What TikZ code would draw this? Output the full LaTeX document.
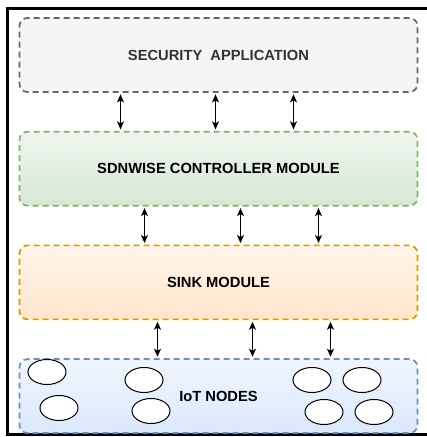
\documentclass[tikz,border=0pt]{standalone}
\usepackage{fontspec}
\setmainfont{Liberation Sans}
\usetikzlibrary{positioning, arrows.meta, shapes.geometric}
\definecolor{secfill}{HTML}{F5F5F5}
\definecolor{secline}{HTML}{666666}
\definecolor{sdnfill}{HTML}{D5E8D4}
\definecolor{sdnline}{HTML}{82B366}
\definecolor{sinkfill}{HTML}{FFE6CC}
\definecolor{sinkline}{HTML}{D79B00}
\definecolor{iotfill}{HTML}{DAE8FC}
\definecolor{iotline}{HTML}{6C8EBF}
\tikzset{>={Stealth[length=8pt,width=7pt,inset=2pt]}}

\begin{document}
\begin{tikzpicture}[x=1pt,y=1pt,node distance=38pt]
    \tikzstyle{layer}=[rectangle,rounded corners=8pt,minimum width=398pt,minimum height=74pt,
        line width=1.7pt,dash pattern=on 6pt off 4pt,
        font=\fontsize{14.7}{17}\selectfont\bfseries]
    \tikzstyle{mote}=[ellipse,draw,fill=white,line width=1pt,minimum width=38pt,minimum height=25pt]

    \useasboundingbox (0,0) rectangle (427,437);
    \draw[line width=3pt] (445,428.5) -| (7,2.5) -- (445,2.5);

    \node[layer,draw=secline,fill=secfill,text=black!80] (sec) at (218.5,382) {SECURITY\ \ APPLICATION};
    \node[layer,draw=sdnline,top color=sdnfill!40!white,bottom color=sdnfill] (sdn) [below=of sec]  {SDNWISE CONTROLLER MODULE};
    \node[layer,draw=sinkline,top color=sinkfill!40!white,bottom color=sinkfill] (sink) [below=of sdn] {SINK MODULE};
    \node[layer,draw=iotline,top color=iotfill!40!white,bottom color=iotfill] (iot) [below=of sink] {IoT NODES};

    \node[mote] (m1) at (47,65) {};
    \node[mote] (m2) at (59,29) {};
    \node[mote] (m3) at (144,57) {};
    \node[mote] (m4) at (151,26) {};
    \node[mote] (m5) at (312,57) {};
    \node[mote] (m6) at (362,57) {};
    \node[mote] (m7) at (324,25) {};
    \node[mote] (m8) at (374,25) {};

    \path[<->,line width=1.3pt,shorten >=1.5pt,shorten <=1.5pt]
    ([xshift=-98pt]sec.south)  edge ([xshift=-98pt]sdn.north)
    ([xshift=-3pt]sec.south)   edge ([xshift=-3pt]sdn.north)
    ([xshift=75pt]sec.south)   edge ([xshift=75pt]sdn.north)
    ([xshift=-74pt]sdn.south)  edge ([xshift=-74pt]sink.north)
    ([xshift=22pt]sdn.south)   edge ([xshift=22pt]sink.north)
    ([xshift=100pt]sdn.south)  edge ([xshift=100pt]sink.north)
    ([xshift=-61pt]sink.south) edge ([xshift=-61pt]iot.north)
    ([xshift=34pt]sink.south)  edge ([xshift=34pt]iot.north)
    ([xshift=112pt]sink.south) edge ([xshift=112pt]iot.north);
\end{tikzpicture}
\end{document}
